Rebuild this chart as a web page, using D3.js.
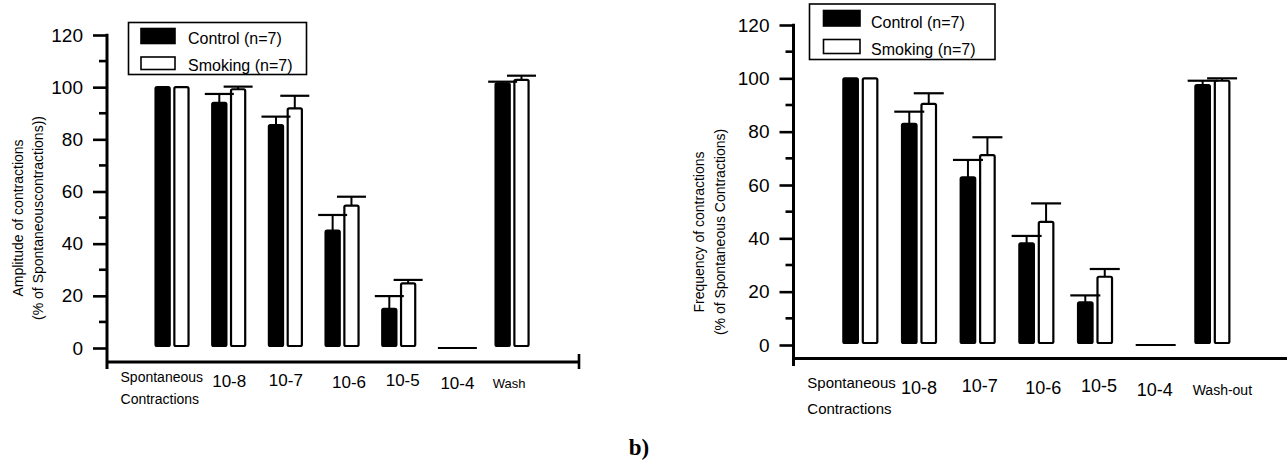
<!DOCTYPE html>
<html>
<head>
<meta charset="utf-8">
<script src="https://cdn.jsdelivr.net/npm/d3@7/dist/d3.min.js"></script>
<style>
  html, body { margin: 0; padding: 0; background: #fff; }
  svg text { font-family: "Liberation Sans", Arial, sans-serif; fill: #000; }
</style>
</head>
<body>
<svg id="fig" width="1287" height="461"></svg>
<script>
// ---- data ----
const categoriesAmp  = ["Spontaneous Contractions", "10-8", "10-7", "10-6", "10-5", "10-4", "Wash"];
const categoriesFreq = ["Spontaneous Contractions", "10-8", "10-7", "10-6", "10-5", "10-4", "Wash-out"];
const seriesNames = ["Control (n=7)", "Smoking (n=7)"];
const yTicks = [0, 20, 40, 60, 80, 100, 120];

// Amplitude (% of spontaneous contractions), mean and SEM
const ampControl     = [100, 94.0, 85.5, 45.0, 15.0, 0, 101.5];
const ampControlErr  = [0,    3.4,  3.2,  6.0,  4.9, 0,   0.6];
const ampSmoking     = [100, 99.2, 91.9, 54.6, 24.8, 0, 102.8];
const ampSmokingErr  = [0,    1.0,  4.8,  3.4,  1.3, 0,   1.6];

// Frequency (% of spontaneous contractions), mean and SEM
const freqControl    = [100, 82.9, 62.9, 38.1, 16.0, 0, 97.5];
const freqControlErr = [0,    4.6,  6.5,  2.8,  2.6, 0,  1.6];
const freqSmoking    = [100, 90.4, 71.2, 46.2, 25.6, 0, 99.1];
const freqSmokingErr = [0,    4.0,  6.7,  6.9,  2.9, 0,  0.9];

const svg = d3.select("#fig");

function drawChart(cfg) {
  const g = svg.append("g");
  const y = d3.scaleLinear().domain([0, 120]).range([cfg.y0, cfg.y120]);
  const x0 = d3.scaleBand().domain(cfg.categories).range(cfg.groupRange);
  const x1 = d3.scaleBand().domain([0, 1])
    .range([x0.bandwidth() / 2 - cfg.pairWidth / 2, x0.bandwidth() / 2 + cfg.pairWidth / 2])
    .paddingInner(cfg.pairGap);

  // y axis with major ticks every 20 and minor ticks in between
  const yAxis = d3.axisLeft(y).tickValues(yTicks).tickSize(14).tickPadding(10).tickFormat(d3.format("d"));
  const ya = g.append("g").attr("transform", `translate(${cfg.axisX},0)`).call(yAxis);
  ya.select(".domain").remove();
  ya.selectAll(".tick line").attr("stroke", "#000").attr("stroke-width", 2.6);
  ya.selectAll(".tick text").style("font-size", cfg.tickFont + "px");
  g.selectAll(".minor").data(d3.range(10, 120, 20)).join("line")
    .attr("x1", cfg.axisX - 8).attr("x2", cfg.axisX)
    .attr("y1", d => y(d)).attr("y2", d => y(d))
    .attr("stroke", "#000").attr("stroke-width", 2.6);
  g.append("line")
    .attr("x1", cfg.axisX).attr("x2", cfg.axisX)
    .attr("y1", y(120) - 1.3).attr("y2", cfg.yAxisBottom)
    .attr("stroke", "#000").attr("stroke-width", 3);

  // x axis baseline
  g.append("line")
    .attr("x1", cfg.axisX).attr("x2", cfg.xAxisEnd)
    .attr("y1", cfg.xAxisY).attr("y2", cfg.xAxisY)
    .attr("stroke", "#000").attr("stroke-width", 3);
  if (cfg.endTick) {
    g.append("line")
      .attr("x1", cfg.xAxisEnd).attr("x2", cfg.xAxisEnd)
      .attr("y1", cfg.xAxisY - 8).attr("y2", cfg.xAxisY + 7)
      .attr("stroke", "#000").attr("stroke-width", 2.6);
  }

  // bars
  const rows = [];
  cfg.categories.forEach((c, i) => {
    cfg.values.forEach((vals, s) => {
      rows.push({ cat: c, s, v: vals[i], e: cfg.errors[s][i] });
    });
  });
  const bx = d => x0(d.cat) + x1(d.s);
  const bw = x1.bandwidth();

  g.selectAll(".bar").data(rows.filter(d => d.v > 0)).join("rect")
    .attr("x", d => bx(d) + 1)
    .attr("y", d => y(d.v))
    .attr("width", bw - 2)
    .attr("height", d => y(0) - 2 - y(d.v))
    .attr("rx", 1.5)
    .attr("fill", d => d.s === 0 ? "#000" : "#fff")
    .attr("stroke", "#000").attr("stroke-width", 2.2);

  // zero-valued groups are drawn as a single flat line
  g.selectAll(".zero").data(rows.filter(d => d.v === 0 && d.s === 0)).join("line")
    .attr("x1", d => bx(d))
    .attr("x2", d => x0(d.cat) + x1(1) + bw + 4)
    .attr("y1", y(0)).attr("y2", y(0))
    .attr("stroke", "#000").attr("stroke-width", 2.2);

  // error bars (upper half only)
  const eb = rows.filter(d => d.e > 0);
  g.selectAll(".stem").data(eb).join("line")
    .attr("x1", d => bx(d) + bw / 2).attr("x2", d => bx(d) + bw / 2)
    .attr("y1", d => y(d.v)).attr("y2", d => y(d.v + d.e))
    .attr("stroke", "#000").attr("stroke-width", 2);
  g.selectAll(".cap").data(eb).join("line")
    .attr("x1", d => bx(d) + bw / 2 - cfg.capW / 2).attr("x2", d => bx(d) + bw / 2 + cfg.capW / 2)
    .attr("y1", d => y(d.v + d.e)).attr("y2", d => y(d.v + d.e))
    .attr("stroke", "#000").attr("stroke-width", 2.2);

  // category labels
  cfg.categories.forEach((c, i) => {
    const cx = x0(c) + x0.bandwidth() / 2;
    const lab = cfg.labels[i];
    if (c.startsWith("Spontaneous")) {
      const t = g.append("text").attr("x", cx + lab.dx).style("font-size", lab.size + "px");
      t.append("tspan").attr("x", cx + lab.dx).attr("y", lab.y).text("Spontaneous");
      t.append("tspan").attr("x", cx + lab.dx).attr("y", lab.y2).text("Contractions");
    } else {
      g.append("text")
        .attr("x", cx + lab.dx).attr("y", lab.y)
        .attr("text-anchor", "middle")
        .style("font-size", lab.size + "px")
        .text(c);
    }
  });

  // y-axis title, two lines
  cfg.yTitle.forEach((line, k) => {
    g.append("text")
      .attr("transform", `translate(${cfg.yTitleX[k]},${cfg.yTitleY}) rotate(-90)`)
      .attr("text-anchor", "middle")
      .style("font-size", "14px")
      .text(line);
  });

  // legend
  const L = cfg.legend;
  g.append("rect").attr("x", L.x).attr("y", L.y).attr("width", L.w).attr("height", L.h)
    .attr("fill", "#fff").attr("stroke", "#000").attr("stroke-width", 1.6);
  seriesNames.forEach((name, s) => {
    g.append("rect")
      .attr("x", L.sx).attr("y", L.rows[s])
      .attr("width", L.sw).attr("height", L.sh[s])
      .attr("fill", s === 0 ? "#000" : "#fff")
      .attr("stroke", "#000").attr("stroke-width", 1.6);
    g.append("text").attr("x", L.tx).attr("y", L.base[s])
      .style("font-size", "16px").text(name);
  });
}

drawChart({
  categories: categoriesAmp,
  values: [ampControl, ampSmoking],
  errors: [ampControlErr, ampSmokingErr],
  y0: 348, y120: 35,
  axisX: 107, yAxisBottom: 369, xAxisY: 362, xAxisEnd: 579, endTick: true,
  groupRange: [143.7, 540.4], pairWidth: 35, pairGap: 0.14, capW: 29,
  tickFont: 19,
  labels: [
    { dx: -51.5, y: 382, y2: 404, size: 14 },
    { dx: 0.5, y: 387, size: 17 },
    { dx: 0.5, y: 386, size: 17 },
    { dx: 7, y: 387.5, size: 17 },
    { dx: 4, y: 386, size: 17 },
    { dx: 2, y: 389, size: 17 },
    { dx: -3, y: 388, size: 13 }
  ],
  yTitle: ["Amplitude of contractions", "(% of Spontaneouscontractions))"],
  yTitleX: [23, 43], yTitleY: 218,
  legend: { x: 128.5, y: 22.5, w: 178, h: 52, sx: 141, sw: 34, sh: [15, 12.5], rows: [28.5, 57],
            tx: 188, base: [43.5, 71] }
});

drawChart({
  categories: categoriesFreq,
  values: [freqControl, freqSmoking],
  errors: [freqControlErr, freqSmokingErr],
  y0: 345, y120: 25,
  axisX: 793.5, yAxisBottom: 366, xAxisY: 358.5, xAxisEnd: 1287, endTick: false,
  groupRange: [831, 1241.7], pairWidth: 36, pairGap: 0.15, capW: 30,
  tickFont: 19,
  labels: [
    { dx: -53, y: 388, y2: 414, size: 15 },
    { dx: 0, y: 394, size: 18 },
    { dx: 2, y: 392, size: 18 },
    { dx: 7, y: 394, size: 18 },
    { dx: 4, y: 392, size: 18 },
    { dx: 1, y: 396, size: 18 },
    { dx: 10, y: 395, size: 14 }
  ],
  yTitle: ["Frequency of contractions", "(% of Spontaneous Contractions)"],
  yTitleX: [704, 725], yTitleY: 232,
  legend: { x: 809.5, y: 4, w: 185.5, h: 55.5, sx: 823.5, sw: 36.5, sh: [15.5, 14], rows: [10.5, 39.5],
            tx: 871, base: [27.5, 55] }
});

// panel tag
svg.append("text")
  .attr("x", 639).attr("y", 455)
  .attr("text-anchor", "middle")
  .style("font-family", "'Liberation Serif', 'Times New Roman', serif")
  .style("font-weight", "bold")
  .style("font-size", "23px")
  .text("b)");
</script>
</body>
</html>
